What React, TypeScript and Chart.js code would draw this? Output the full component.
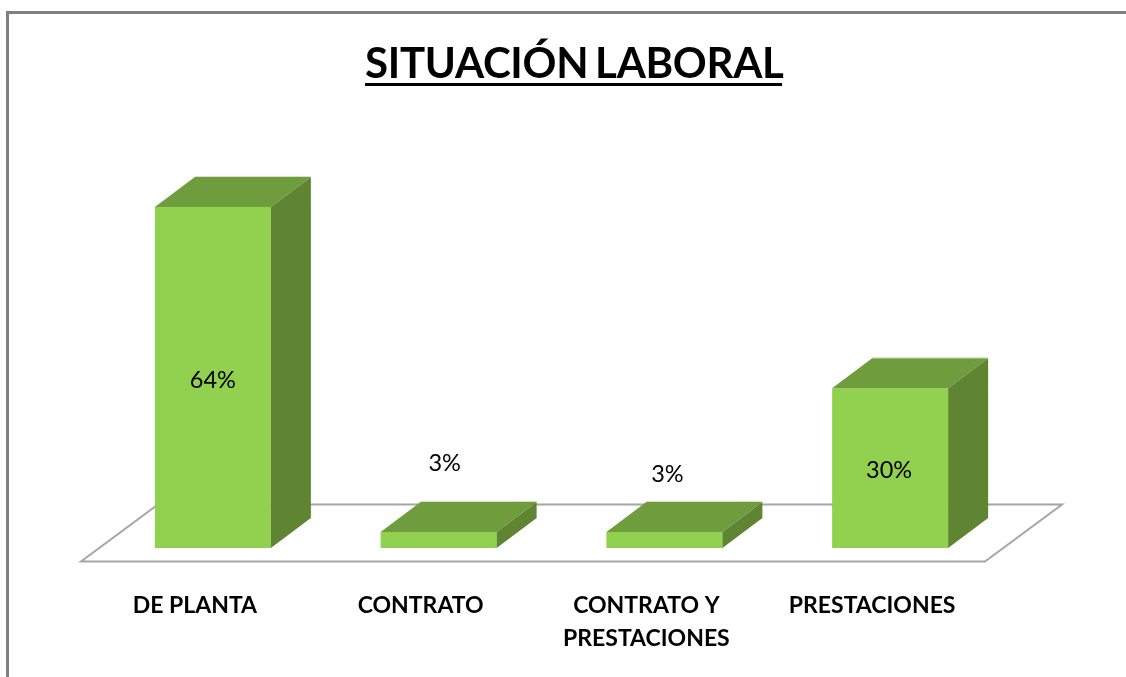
import React, { useEffect, useRef } from "react";
import { Chart, registerables } from "chart.js";

Chart.register(...registerables);

const titleText = "SITUACIÓN LABORAL";
const categories = [["DE PLANTA"], ["CONTRATO"], ["CONTRATO Y", "PRESTACIONES"], ["PRESTACIONES"]];
const seriesValues = [64, 3, 3, 30];
const valueLabels = ["64%", "3%", "3%", "30%"];
const labelOffsetX = [0, 6, 3, -1];
const labelOffsetY = [3, -77, -66, 2];

const FRONT = "#92D050";
const TOP = "#6F9C3D";
const SIDE = "#5F8432";
const DEPTH_X = 40;
const DEPTH_Y = 30;

const poly = (ctx: CanvasRenderingContext2D, pts: number[][], fill: string) => {
  ctx.beginPath();
  pts.forEach(([x, y], i) => (i ? ctx.lineTo(x, y) : ctx.moveTo(x, y)));
  ctx.closePath();
  ctx.fillStyle = fill;
  ctx.fill();
};

const scene = {
  id: "scene",
  beforeDatasetsDraw(chart: any) {
    const { ctx, chartArea: a, scales } = chart;
    const base = scales.y.getPixelForValue(0);
    ctx.save();
    // frame
    ctx.strokeStyle = "#808080";
    ctx.lineWidth = 3;
    ctx.beginPath();
    ctx.moveTo(7.5, chart.height);
    ctx.lineTo(7.5, 12.5);
    ctx.lineTo(chart.width, 12.5);
    ctx.stroke();
    // floor
    const fy = base + 13.5;
    const by = fy - 57;
    ctx.strokeStyle = "#A6A6A6";
    ctx.lineWidth = 2;
    ctx.beginPath();
    ctx.moveTo(a.left - 19, fy);
    ctx.lineTo(a.right - 18, fy);
    ctx.lineTo(a.right + 59, by);
    ctx.lineTo(a.left + 58, by);
    ctx.closePath();
    ctx.stroke();
    // title
    ctx.fillStyle = "#000";
    ctx.font = "bold 42px Lato";
    (ctx as any).wordSpacing = "-3px";
    (ctx as any).letterSpacing = "-0.3px";
    ctx.textAlign = "left";
    ctx.textBaseline = "alphabetic";
    ctx.fillText(titleText, 365, 78);
    (ctx as any).wordSpacing = "0px";
    (ctx as any).letterSpacing = "0px";
    ctx.fillRect(365, 83, 417, 3);
    ctx.restore();
  },
  afterDatasetsDraw(chart: any) {
    const { ctx, scales } = chart;
    const base = scales.y.getPixelForValue(0);
    const meta = chart.getDatasetMeta(0);
    ctx.save();
    meta.data.forEach((bar: any, i: number) => {
      const half = bar.width / 2;
      const l = bar.x - half;
      const r = bar.x + half;
      const t = bar.y;
      poly(ctx, [[l, t], [r, t], [r + DEPTH_X, t - DEPTH_Y], [l + DEPTH_X, t - DEPTH_Y]], TOP);
      poly(ctx, [[r, t], [r + DEPTH_X, t - DEPTH_Y], [r + DEPTH_X, base - DEPTH_Y], [r, base]], SIDE);
      ctx.fillStyle = "#D5E2C0";
      ctx.fillRect(l + DEPTH_X, t - DEPTH_Y - 1, bar.width, 1);
      ctx.fillStyle = "#000";
      ctx.font = "23.5px Lato";
      ctx.textAlign = "center";
      ctx.textBaseline = "middle";
      const mid = (t + base) / 2;
      ctx.fillText(valueLabels[i], bar.x + labelOffsetX[i], mid + labelOffsetY[i]);
    });
    ctx.restore();
  },
};

export default function App() {
  const ref = useRef<HTMLCanvasElement>(null);
  useEffect(() => {
    document.body.style.margin = "0";
    document.body.style.background = "#fff";
    const chart = new Chart(ref.current!, {
      type: "bar",
      data: {
        labels: categories as any,
        datasets: [{
          data: seriesValues,
          backgroundColor: FRONT,
          borderWidth: 0,
          barPercentage: 0.514,
          categoryPercentage: 1,
        }],
      },
      options: {
        responsive: false,
        animation: false,
        layout: { padding: { left: 100, right: 123, top: 175, bottom: 0 } },
        plugins: { legend: { display: false }, tooltip: { enabled: false }, title: { display: false } },
        scales: {
          x: {
            grid: { display: false },
            border: { display: false },
            afterFit: (s: any) => { s.height = 129; },
            ticks: {
              color: "#000",
              padding: 33,
              labelOffset: -18,
              maxRotation: 0,
              autoSkip: false,
              font: { family: "Lato", size: 23, weight: "bold", lineHeight: 1.45 },
            },
          },
          y: {
            display: false,
            min: 0,
            max: 70,
          },
        },
      },
      plugins: [scene],
    });
    return () => chart.destroy();
  }, []);
  return <canvas ref={ref} width={1126} height={677} style={{ display: "block" }} />;
}
